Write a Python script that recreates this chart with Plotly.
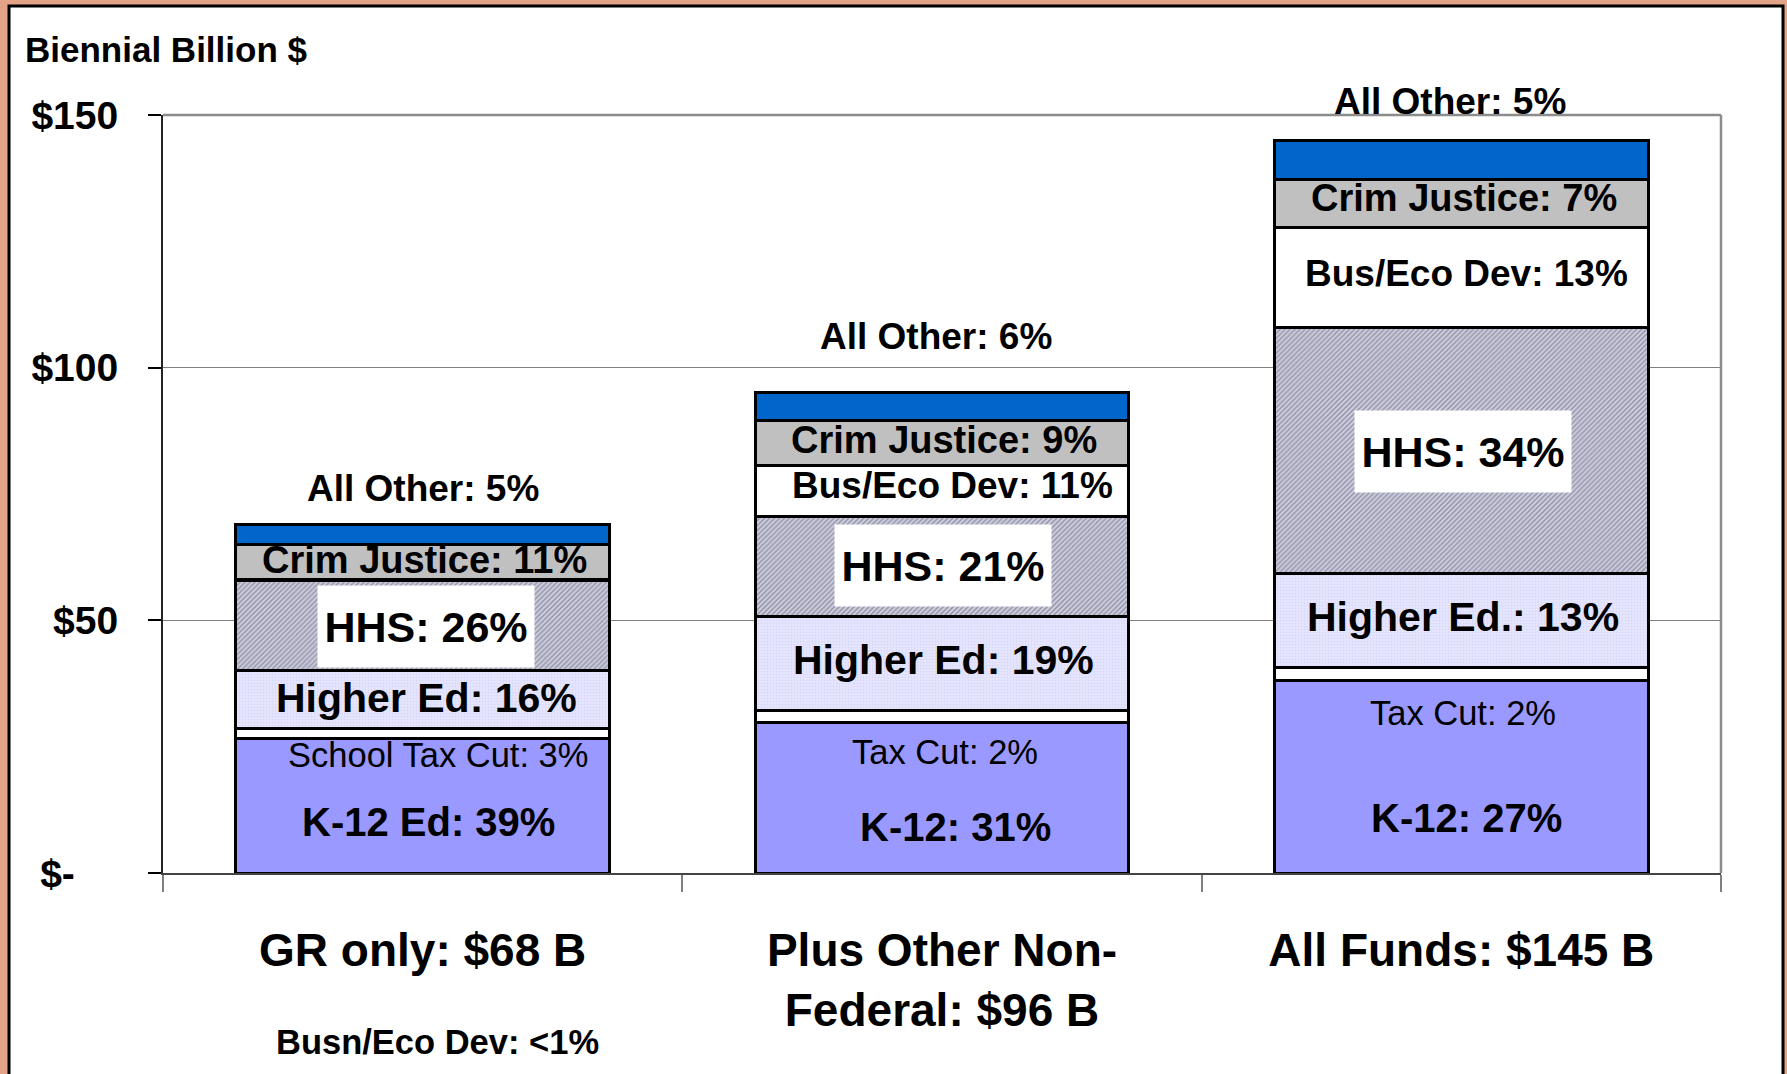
import plotly.graph_objects as go

# ---------------- data ----------------
categories = ["GR only: $68 B", "Plus Other Non-<br>Federal: $96 B", "All Funds: $145 B"]
segment_names = ["K-12", "Tax Cut", "Higher Ed", "HHS", "Bus/Eco Dev", "Crim Justice", "All Other"]
k12 = [26.6, 29.7, 38.1]
tax_cut = [1.9, 2.5, 2.5]
higher_ed = [11.5, 18.5, 18.6]
hhs = [17.8, 19.8, 48.8]
bus_eco = [0.3, 10.1, 19.8]
crim_justice = [6.9, 8.9, 9.4]
all_other = [4.0, 5.6, 7.7]

y_tickvals = [0, 50, 100, 150]
y_ticktext = ["$-" + "\u00a0" * 4, "$50", "$100", "$150"]

# segment label texts (per bar)
label_texts = [
    ["K-12 Ed: 39%", "School Tax Cut: 3%", "Higher Ed: 16%", "HHS: 26%", None, "Crim Justice: 11%", "All Other: 5%"],
    ["K-12: 31%", "Tax Cut: 2%", "Higher Ed: 19%", "HHS: 21%", "Bus/Eco Dev: 11%", "Crim Justice: 9%", "All Other: 6%"],
    ["K-12: 27%", "Tax Cut: 2%", "Higher Ed.: 13%", "HHS: 34%", "Bus/Eco Dev: 13%", "Crim Justice: 7%", "All Other: 5%"],
]

# ---------------- label placement (layout only) ----------------
label_y = [
    [10.1, 23.4, 34.6, 48.8, None, 61.9, 76.0],
    [9.1, 24.0, 42.2, 60.8, 76.6, 85.7, 106.1],
    [10.9, 31.7, 50.7, 83.5, 118.7, 133.6, 152.6],
]
label_xshift = [
    [6, 15, 4, 3, 0, 2, 0],
    [13, 3, 1, 1, 10, 2, -6],
    [5, 2, 2, 2, 5, 3, -11],
]
seg_font = [40, 34.5, 41, 43, 37, 38, 37]
seg_bold = [True, False, True, True, True, True, True]

FONT = "Liberation Sans, Arial, sans-serif"
Y_MAX = 150

series = [k12, tax_cut, higher_ed, hhs, bus_eco, crim_justice, all_other]
colors = ["#9999FF", "#FFFFFF", "#E6E6FF", "#CDCDDC", "#FFFFFF", "#C0C0C0", "#0066CC"]

fig = go.Figure()
for i, (name, vals, col) in enumerate(zip(segment_names, series, colors)):
    marker = dict(color=col, line=dict(color="black", width=3))
    if name == "HHS":
        marker["pattern"] = dict(shape="/", fgcolor="#555577", size=3.5, solidity=0.4, fillmode="overlay")
    elif name == "Higher Ed":
        marker["pattern"] = dict(shape=".", fgcolor="#C8C8EE", size=3, solidity=0.3, fillmode="overlay")
    fig.add_trace(go.Bar(x=categories, y=vals, name=name, marker=marker, hoverinfo="skip"))

W, H = 1787, 1074
L, R, T, B = 163, 66, 115, 201
PW, PH = W - L - R, H - T - B


def px_x(p):
    return (p - L) / PW


def px_y(p):
    return (H - B - p) / PH


annotations = []
for b, cat in enumerate(categories):
    for s in range(len(segment_names)):
        txt = label_texts[b][s]
        if txt is None:
            continue
        yv = label_y[b][s]
        ann = dict(
            x=cat, xref="x", text=txt, showarrow=False,
            xshift=label_xshift[b][s], xanchor="center", yanchor="middle",
            font=dict(family=FONT, size=seg_font[s], color="black",
                      weight="bold" if seg_bold[s] else "normal"),
        )
        if yv > Y_MAX:
            ann.update(y=yv / Y_MAX, yref="paper")
        else:
            ann.update(y=yv, yref="y")
        if segment_names[s] == "HHS":
            ann.update(bgcolor="white", width=212, height=77, borderpad=2)
        annotations.append(ann)

annotations.append(dict(
    x=px_x(23), y=px_y(49), xref="paper", yref="paper", text="Biennial Billion $",
    showarrow=False, xanchor="left", yanchor="middle",
    font=dict(family=FONT, size=35, color="black", weight="bold")))
annotations.append(dict(
    x=px_x(437), y=px_y(1042), xref="paper", yref="paper", text="Busn/Eco Dev: &lt;1%",
    showarrow=False, xanchor="center", yanchor="middle",
    font=dict(family=FONT, size=34.5, color="black", weight="bold")))

shapes = [
    # white chart frame with black border
    dict(type="rect", xref="paper", yref="paper", x0=px_x(9), x1=px_x(1783),
         y0=px_y(1090), y1=px_y(6), fillcolor="white", line=dict(color="black", width=3),
         layer="below"),
    # top and right plot borders
    dict(type="line", xref="paper", yref="paper", x0=0, x1=1, y0=1, y1=1,
         line=dict(color="#8C8C8C", width=2.5)),
    dict(type="line", xref="paper", yref="paper", x0=1, x1=1, y0=0, y1=1,
         line=dict(color="#8C8C8C", width=2.5)),
]

fig.update_layout(
    width=W, height=H,
    margin=dict(l=L, r=R, t=T, b=B, pad=0),
    barmode="stack", bargap=0.281,
    showlegend=False,
    paper_bgcolor="#E3A387",
    plot_bgcolor="white",
    annotations=annotations,
    shapes=shapes,
    xaxis=dict(
        showline=True, linecolor="#444444", linewidth=2,
        ticks="outside", ticklen=17, tickcolor="#808080", tickwidth=1.5,
        tickson="boundaries", showgrid=False,
        tickfont=dict(family=FONT, size=46, color="black", weight="bold"),
        ticklabelstandoff=36,
    ),
    yaxis=dict(
        range=[0, Y_MAX], tickvals=y_tickvals, ticktext=y_ticktext,
        showline=True, linecolor="#222222", linewidth=2,
        ticks="outside", ticklen=13, tickcolor="black", tickwidth=1.5,
        showgrid=True, gridcolor="#808080", gridwidth=1, zeroline=False,
        tickfont=dict(family=FONT, size=39, color="black", weight="bold"),
        ticklabelstandoff=22,
    ),
)

fig.write_html(
    "out.html",
    config={"displayModeBar": False},
    post_script="document.body.style.margin='0';document.body.style.overflow='hidden';",
)
